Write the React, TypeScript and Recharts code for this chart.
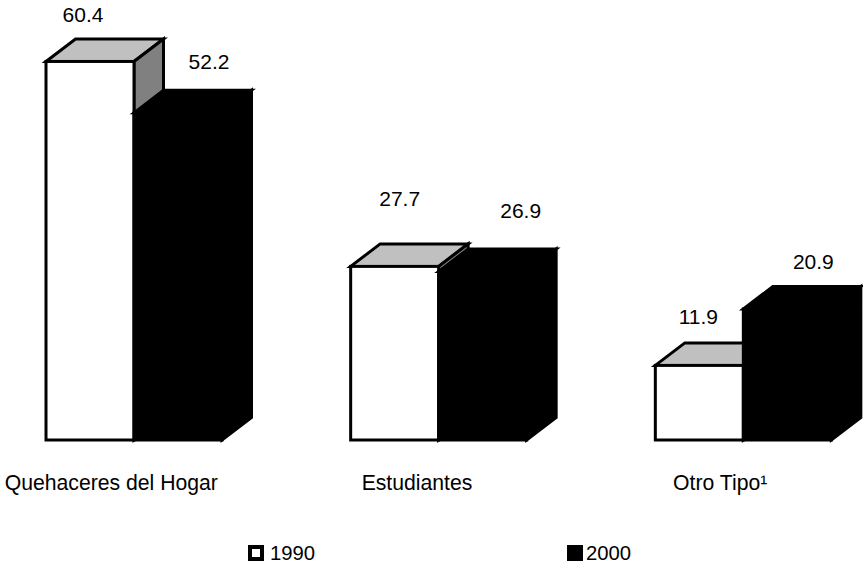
import { Bar, BarChart, LabelList, Legend, XAxis, YAxis } from 'recharts';

const categories = ['Quehaceres del Hogar', 'Estudiantes', 'Otro Tipo¹'];
const values1990 = [60.4, 27.7, 11.9];
const values2000 = [52.2, 26.9, 20.9];

const data = categories.map((name, i) => ({ name, y1990: values1990[i], y2000: values2000[i] }));

const FONT = '"Liberation Sans", Arial, sans-serif';
const DEPTH_X = 29.5;
const DEPTH_Y = 22.5;

// the original's labels sit unevenly, so each one gets its own nudge
const tickNudge = [-23, -22, -23.5];
const nudge1990 = [[-7, -47], [5, -68], [-1, -49]];
const nudge2000 = [[31, -51], [38, -61], [26, -48]];

const Box3D = ({ x, y, width, height, front, top, side }: any) => {
  const r = x + width;
  const b = y + height;
  const dx = DEPTH_X;
  const dy = DEPTH_Y;
  return (
    <g stroke="#000" strokeWidth={3} strokeLinejoin="miter">
      <polygon points={`${x},${y} ${x + dx},${y - dy} ${r + dx},${y - dy} ${r},${y}`} fill={top} />
      <polygon points={`${r},${y} ${r + dx},${y - dy} ${r + dx},${b - dy} ${r},${b}`} fill={side} />
      <rect x={x} y={y} width={width} height={height} fill={front} />
    </g>
  );
};

const valueLabel = (nudges: number[][]) => ({ x, y, width, value, index }: any) => (
  <text
    x={x + width / 2 + nudges[index][0]}
    y={y + nudges[index][1]}
    textAnchor="middle"
    dominantBaseline="central"
    fontFamily={FONT}
    fontSize={21}
    fill="#000"
  >
    {value}
  </text>
);

const CategoryTick = ({ x, y, payload, index }: any) => (
  <text x={x + tickNudge[index]} y={y} textAnchor="middle" dominantBaseline="central" fontFamily={FONT} fontSize={21.2} fill="#000">
    {payload.value}
  </text>
);

const YearLegend = () => (
  <div style={{ position: 'relative', height: 20, fontFamily: FONT, fontSize: 20.3, lineHeight: '20px', color: '#000' }}>
    <span style={{ position: 'absolute', left: 248, top: 0, width: 16, height: 16, boxSizing: 'border-box', border: '4.5px solid #000', background: '#fff' }} />
    <span style={{ position: 'absolute', left: 270, top: -2 }}>1990</span>
    <span style={{ position: 'absolute', left: 567, top: 0, width: 16, height: 16, background: '#000' }} />
    <span style={{ position: 'absolute', left: 586, top: -2 }}>2000</span>
  </div>
);

export default function App() {
  return (
    <div style={{ position: 'absolute', left: 0, top: 0, width: 863, height: 565, overflow: 'hidden', background: '#fff' }}>
      <BarChart
        width={863}
        height={565}
        data={data}
        barSize={88}
        barGap={0}
        margin={{ top: 1.3, right: -33, bottom: 75, left: -18 }}
      >
        <YAxis hide domain={[0, 70]} />
        <XAxis dataKey="name" axisLine={false} tickLine={false} tick={<CategoryTick />} tickMargin={36} interval={0} />
        <Legend
          content={<YearLegend />}
          wrapperStyle={{ position: 'absolute', left: 0, top: 545, width: 863, height: 20 }}
        />
        <Bar
          dataKey="y1990"
          isAnimationActive={false}
          shape={(p: any) => <Box3D {...p} front="#fff" top="#c0c0c0" side="#808080" />}
        >
          <LabelList dataKey="y1990" content={valueLabel(nudge1990)} />
        </Bar>
        <Bar
          dataKey="y2000"
          isAnimationActive={false}
          shape={(p: any) => <Box3D {...p} front="#000" top="#000" side="#000" />}
        >
          <LabelList dataKey="y2000" content={valueLabel(nudge2000)} />
        </Bar>
      </BarChart>
    </div>
  );
}
